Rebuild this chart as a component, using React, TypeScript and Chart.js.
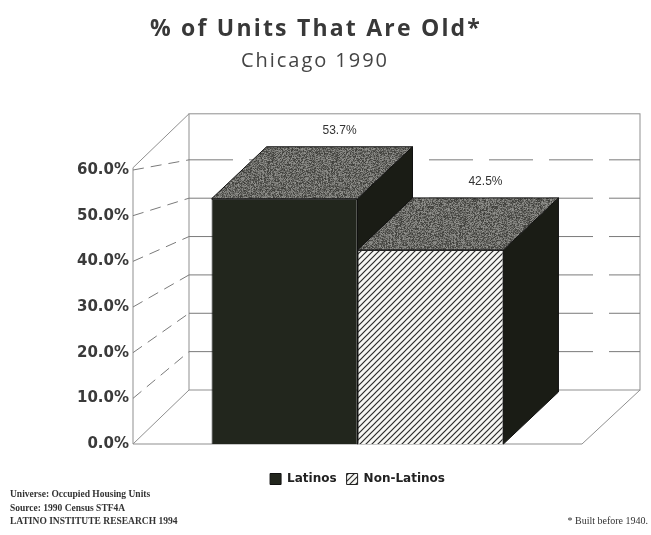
import React, { useEffect, useRef } from 'react';
import { Chart, registerables } from 'chart.js';

Chart.register(...registerables);

// ---- data ----
const categories = [''];
const seriesNames = ['Latinos', 'Non-Latinos'];
const latinosValues = [53.7];
const nonLatinosValues = [42.5];
const yMin = 0;
const yMax = 60;
const yStep = 10;
const titleText = '% of Units That Are Old*';
const subtitleText = 'Chicago 1990';
const notesLeft = ['Universe: Occupied Housing Units', 'Source: 1990 Census STF4A', 'LATINO INSTITUTE RESEARCH 1994'];
const noteRight = '* Built before 1940.';

// ---- styling constants (3D look) ----
const BAR_DX = 55;
const BAR_DY = -52;
const WALL_DX = 56;
const WALL_DY = -54;
const WALL_SCALE = 0.84;
const WALL_RIGHT_EXTRA = 58;
const WALL_TOP_VALUE = 72;
const FRONT_TOP_VALUE = 60.5;

function makeHatch(): CanvasPattern | string {
  const s = 6;
  const c = document.createElement('canvas');
  c.width = s; c.height = s;
  const g = c.getContext('2d');
  if (!g) return '#ddd';
  g.fillStyle = '#f6f6f3';
  g.fillRect(0, 0, s, s);
  g.strokeStyle = '#2a2a2a';
  g.lineWidth = 1.2;
  g.beginPath();
  g.moveTo(-1, s + 1); g.lineTo(s + 1, -1);
  g.moveTo(-1, 1); g.lineTo(1, -1);
  g.moveTo(s - 1, s + 1); g.lineTo(s + 1, s - 1);
  g.stroke();
  return g.createPattern(c, 'repeat') || '#ddd';
}

function makeSpeckle(): CanvasPattern | string {
  const n = 64;
  const c = document.createElement('canvas');
  c.width = n; c.height = n;
  const g = c.getContext('2d');
  if (!g) return '#777';
  const img = g.createImageData(n, n);
  for (let y = 0; y < n; y++) {
    for (let x = 0; x < n; x++) {
      let h = Math.imul(x, 374761393) + Math.imul(y, 668265263);
      h = Math.imul(h ^ (h >>> 13), 1274126177);
      h ^= h >>> 16;
      const v = 60 + ((h >>> 0) % 90);
      const i = (y * n + x) * 4;
      img.data[i] = v; img.data[i + 1] = v; img.data[i + 2] = v - 4; img.data[i + 3] = 255;
    }
  }
  g.putImageData(img, 0, 0);
  return g.createPattern(c, 'repeat') || '#777';
}

function fitText(ctx: CanvasRenderingContext2D, text: string, x: number, y: number, targetWidth: number) {
  (ctx as any).letterSpacing = '0px';
  const w = ctx.measureText(text).width;
  const ls = Math.max(0, (targetWidth - w) / Math.max(1, text.length - 1));
  (ctx as any).letterSpacing = ls.toFixed(2) + 'px';
  ctx.textAlign = 'left';
  ctx.fillText(text, x - (w + ls * (text.length - 1)) / 2, y);
  (ctx as any).letterSpacing = '0px';
}

const threeDPlugin = {
  id: 'threeD',
  beforeDatasetsDraw(chart: any) {
    const ctx: CanvasRenderingContext2D = chart.ctx;
    const area = chart.chartArea;
    const ys = chart.scales.y;
    const L = area.left;
    const R = area.right;
    const B = ys.getPixelForValue(0);
    const backY = (v: number) => B + WALL_DY + (ys.getPixelForValue(v) - B) * WALL_SCALE;
    const bx0 = L + WALL_DX;
    const bx1 = R + WALL_RIGHT_EXTRA;

    ctx.save();
    ctx.strokeStyle = '#8f8f8f';
    ctx.lineWidth = 1;
    ctx.strokeRect(bx0, backY(WALL_TOP_VALUE), bx1 - bx0, backY(0) - backY(WALL_TOP_VALUE));
    ctx.beginPath();
    ctx.moveTo(L, B); ctx.lineTo(L, ys.getPixelForValue(FRONT_TOP_VALUE));
    ctx.lineTo(bx0, backY(WALL_TOP_VALUE));
    ctx.moveTo(L, B); ctx.lineTo(bx0, backY(0));
    ctx.moveTo(L, B); ctx.lineTo(R, B); ctx.lineTo(bx1, backY(0));
    ctx.stroke();

    ctx.strokeStyle = '#7a7a7a';
    for (let v = yMin + yStep; v <= yMax; v += yStep) {
      ctx.setLineDash([44, 16]);
      ctx.beginPath();
      ctx.moveTo(bx0, backY(v)); ctx.lineTo(bx1, backY(v));
      ctx.stroke();
      ctx.setLineDash([11, 7]);
      ctx.beginPath();
      ctx.moveTo(L, ys.getPixelForValue(v)); ctx.lineTo(bx0, backY(v));
      ctx.stroke();
    }
    ctx.setLineDash([]);

    const speckle = (chart as any).$speckle || '#777';
    chart.data.datasets.forEach((_ds: any, di: number) => {
      const meta = chart.getDatasetMeta(di);
      meta.data.forEach((bar: any) => {
        const left = bar.x - bar.width / 2;
        const right = bar.x + bar.width / 2;
        const top = bar.y;
        const bottom = bar.base;
        ctx.fillStyle = '#1a1c15';
        ctx.strokeStyle = '#111';
        ctx.beginPath();
        ctx.moveTo(right, top);
        ctx.lineTo(right + BAR_DX, top + BAR_DY);
        ctx.lineTo(right + BAR_DX, bottom + BAR_DY);
        ctx.lineTo(right, bottom);
        ctx.closePath();
        ctx.fill(); ctx.stroke();
        ctx.fillStyle = speckle;
        ctx.beginPath();
        ctx.moveTo(left, top);
        ctx.lineTo(left + BAR_DX, top + BAR_DY);
        ctx.lineTo(right + BAR_DX, top + BAR_DY);
        ctx.lineTo(right, top);
        ctx.closePath();
        ctx.fill(); ctx.stroke();
      });
    });
    ctx.restore();
  },
  afterDatasetsDraw(chart: any) {
    const ctx: CanvasRenderingContext2D = chart.ctx;
    ctx.save();
    ctx.fillStyle = '#333';
    ctx.font = '12px "Liberation Sans", Arial, sans-serif';
    ctx.textAlign = 'center';
    ctx.textBaseline = 'middle';
    chart.data.datasets.forEach((ds: any, di: number) => {
      const meta = chart.getDatasetMeta(di);
      meta.data.forEach((bar: any, i: number) => {
        const v = Number(ds.data[i]);
        ctx.fillText(v.toFixed(1) + '%', bar.x + BAR_DX, bar.y + BAR_DY - 16);
      });
    });
    ctx.restore();
  },
  afterDraw(chart: any) {
    const ctx: CanvasRenderingContext2D = chart.ctx;
    ctx.save();
    ctx.textBaseline = 'middle';
    ctx.fillStyle = '#383838';
    ctx.font = 'bold 23px "Open Sans", Lato, sans-serif';
    fitText(ctx, titleText, 315, 29, 330);
    ctx.fillStyle = '#444';
    ctx.font = '20px "Open Sans", Lato, sans-serif';
    fitText(ctx, subtitleText, 314, 61, 146);

    ctx.textAlign = 'left';
    ctx.textBaseline = 'alphabetic';
    ctx.fillStyle = '#333';
    ctx.font = 'bold 9.5px "Liberation Serif", "DejaVu Serif", serif';
    notesLeft.forEach((t, i) => ctx.fillText(t, 10, 497 + i * 13.5));
    ctx.font = '10px "Liberation Serif", "DejaVu Serif", serif';
    ctx.textAlign = 'right';
    ctx.fillText(noteRight, 648, 524);
    ctx.restore();
  },
};

export default function App() {
  const ref = useRef<HTMLCanvasElement>(null);
  useEffect(() => {
    document.body.style.margin = '0';
    const canvas = ref.current;
    if (!canvas) return;
    const hatch = makeHatch();
    const speckle = makeSpeckle();
    const chart: any = new Chart(canvas, {
      type: 'bar',
      data: {
        labels: categories,
        datasets: [
          {
            label: seriesNames[0],
            data: latinosValues,
            backgroundColor: '#22261d',
            borderColor: '#111',
            borderWidth: 1,
            barPercentage: 1,
            categoryPercentage: 0.65,
          },
          {
            label: seriesNames[1],
            data: nonLatinosValues,
            backgroundColor: hatch as any,
            borderColor: '#222',
            borderWidth: 1,
            barPercentage: 1,
            categoryPercentage: 0.65,
          },
        ],
      },
      options: {
        responsive: false,
        animation: false,
        devicePixelRatio: 1,
        layout: { padding: { top: 170, right: 69, bottom: 40, left: 0 } },
        plugins: {
          legend: {
            display: true,
            position: 'bottom',
            fullSize: false,
            labels: {
              boxWidth: 11,
              boxHeight: 11,
              padding: 10,
              color: '#222',
              font: { family: '"DejaVu Sans", sans-serif', size: 12, weight: 'bold' },
            },
          },
          title: { display: false },
          tooltip: { enabled: false },
        },
        scales: {
          x: {
            display: true,
            grid: { display: false },
            border: { display: false },
            ticks: { display: false },
            afterFit: (s: any) => { s.height = 19; },
          },
          y: {
            min: yMin,
            max: yMax,
            grid: { display: false, drawTicks: false },
            border: { display: false },
            ticks: {
              stepSize: yStep,
              padding: 4,
              color: '#3a3a3a',
              font: { family: '"DejaVu Sans", sans-serif', size: 15, weight: 'bold' },
              callback: (v: any) => Number(v).toFixed(1) + '%',
            },
            afterFit: (s: any) => { s.width = 133; },
          },
        },
      },
      plugins: [threeDPlugin],
    } as any);
    chart.$speckle = speckle;
    chart.update();
    return () => chart.destroy();
  }, []);
  return <canvas ref={ref} width={651} height={535} style={{ display: 'block' }} />;
}
